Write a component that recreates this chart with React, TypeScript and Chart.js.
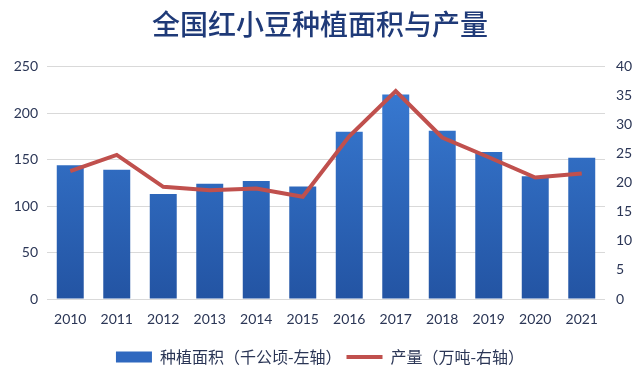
import React, { useEffect, useRef } from "react";
import { Chart, registerables } from "chart.js";

Chart.register(...registerables);

const years = ["2010", "2011", "2012", "2013", "2014", "2015", "2016", "2017", "2018", "2019", "2020", "2021"];
const areaValues = [144, 139, 113, 124, 127, 121, 180, 220, 181, 158, 132, 152];
const outputValues = [22.0, 24.8, 19.3, 18.7, 19.0, 17.6, 28.0, 35.8, 27.8, 24.4, 20.9, 21.6];
const areaLabel = "种植面积（千公顷-左轴）";
const outputLabel = "产量（万吨-右轴）";
const titleText = "全国红小豆种植面积与产量";

export default function App() {
  const ref = useRef<HTMLCanvasElement | null>(null);

  useEffect(() => {
    const canvas = ref.current;
    if (!canvas) return;
    const textColor = "#2b3656";
    const chart = new Chart(canvas, {
      data: {
        labels: years,
        datasets: [
          {
            type: "bar",
            label: areaLabel,
            data: areaValues,
            yAxisID: "y",
            order: 1,
            barPercentage: 0.58,
            categoryPercentage: 1,
            backgroundColor: (ctx: any) => {
              const area = ctx.chart.chartArea;
              if (!area) return "#2f6bc4";
              const g = ctx.chart.ctx.createLinearGradient(0, area.top, 0, area.bottom);
              g.addColorStop(0, "#3a7dd6");
              g.addColorStop(1, "#2354a3");
              return g;
            },
            borderWidth: 0,
          },
          {
            type: "line",
            label: outputLabel,
            data: outputValues,
            yAxisID: "y1",
            order: 0,
            borderColor: "#c0504d",
            backgroundColor: "#c0504d",
            borderWidth: 4,
            pointRadius: 0,
            tension: 0,
          },
        ],
      } as any,
      options: {
        animation: false,
        responsive: false,
        maintainAspectRatio: false,
        layout: { padding: { left: 0, right: 0, top: 0, bottom: 0 } },
        plugins: {
          title: {
            display: true,
            text: titleText,
            color: "#1f3a78",
            font: { family: "'Noto Sans CJK SC', sans-serif", size: 28, weight: 500, lineHeight: 1.2 },
            padding: { top: 8, bottom: 25 },
          },
          legend: {
            position: "bottom",
            maxHeight: 24,
            labels: {
              color: textColor,
              font: { family: "'Noto Sans CJK SC', sans-serif", size: 16 },
              usePointStyle: true,
              pointStyleWidth: 36,
              boxHeight: 11,
              padding: 5,
              sort: (a: any, b: any) => a.datasetIndex - b.datasetIndex,
              generateLabels: (chart: any) => {
                const items = Chart.defaults.plugins.legend.labels.generateLabels(chart);
                items.forEach((it: any) => {
                  if (it.datasetIndex === 0) {
                    it.pointStyle = "rect";
                    it.fillStyle = "#2f68bf";
                    it.strokeStyle = "#2f68bf";
                    it.lineWidth = 0;
                  } else {
                    it.pointStyle = "line";
                    it.strokeStyle = "#c0504d";
                    it.lineWidth = 4;
                  }
                });
                return items;
              },
            },
          },
          tooltip: { enabled: false },
        },
        scales: {
          x: {
            grid: { display: false, drawTicks: false },
            border: { display: false },
            ticks: {
              color: textColor,
              font: { family: "Lato, sans-serif", size: 14 },
              padding: 12,
              maxRotation: 0,
            },
            afterFit: (s: any) => {
              s.height = 45;
            },
          },
          y: {
            position: "left",
            min: 0,
            max: 250,
            grid: { color: "#d9d9d9", drawTicks: false },
            border: { display: false },
            ticks: {
              stepSize: 50,
              color: textColor,
              font: { family: "Lato, sans-serif", size: 14 },
              padding: 9,
            },
            afterFit: (s: any) => {
              s.width = 47;
            },
          },
          y1: {
            position: "right",
            min: 0,
            max: 40,
            grid: { display: false, drawTicks: false },
            border: { display: false },
            ticks: {
              stepSize: 5,
              color: textColor,
              font: { family: "Lato, sans-serif", size: 14 },
              padding: 11,
            },
            afterFit: (s: any) => {
              s.width = 35;
            },
          },
        },
      } as any,
    });
    return () => chart.destroy();
  }, []);

  return (
    <div style={{ position: "fixed", left: 0, top: 0, width: 640, height: 368, background: "#fff" }}>
      <canvas ref={ref} width={640} height={368} style={{ width: 640, height: 368, display: "block" }} />
    </div>
  );
}
